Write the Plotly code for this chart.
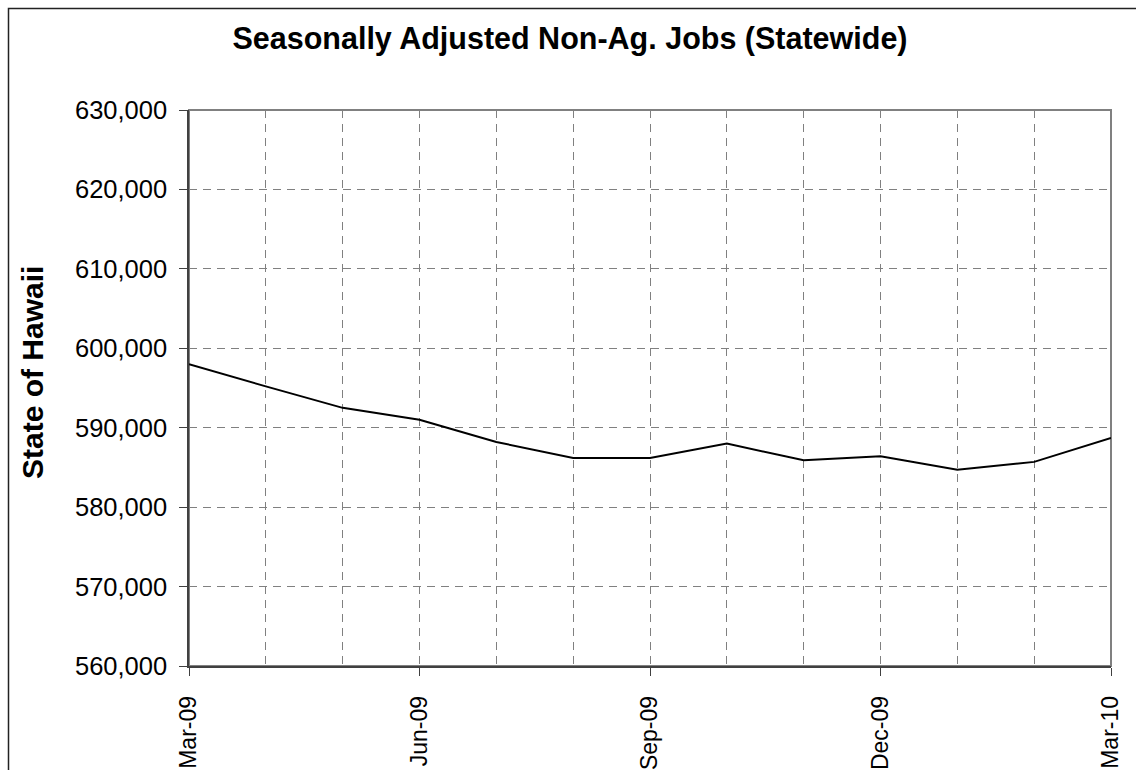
import plotly.graph_objects as go

months = ["Mar-09", "Apr-09", "May-09", "Jun-09", "Jul-09", "Aug-09", "Sep-09",
          "Oct-09", "Nov-09", "Dec-09", "Jan-10", "Feb-10", "Mar-10"]
jobs = [598000, 595200, 592500, 591000, 588200, 586200, 586200,
        588000, 585900, 586400, 584700, 585700, 588700]
y_ticks = [560000, 570000, 580000, 590000, 600000, 610000, 620000, 630000]
label_every = 3

W, H = 1136, 770
L, R, T, B = 189, 25, 110, 104
pw, ph = W - L - R, H - T - B

x_idx = list(range(len(months)))
tickvals = x_idx[::label_every]
ticktext = months[::label_every]

fig = go.Figure()
fig.add_trace(go.Scatter(x=x_idx, y=jobs, mode="lines",
                         line=dict(color="black", width=2), showlegend=False,
                         hovertemplate="%{text}: %{y:,}<extra></extra>", text=months))

font = "Liberation Sans, Arial, sans-serif"
grid_c = "#808080"

fig.update_layout(
    width=W, height=H,
    margin=dict(l=L, r=R, t=T, b=B, autoexpand=False),
    paper_bgcolor="white", plot_bgcolor="white",
    font=dict(family=font, color="black", size=24),
    title=dict(text="<b>Seasonally Adjusted Non-Ag. Jobs (Statewide)</b>",
               x=570 / W, xref="container", xanchor="center",
               y=1 - 38 / H, yref="container", yanchor="middle",
               font=dict(family=font, size=30.5, color="black")),
    xaxis=dict(range=[0, len(months) - 1], tickmode="array",
               tickvals=tickvals, ticktext=ticktext, tickangle=-90,
               ticks="outside", ticklen=8, tickcolor="#404040", tickwidth=1,
               ticklabelstandoff=11, automargin=False,
               showgrid=True, gridcolor=grid_c, griddash="8px,6px", gridwidth=1,
               minor=dict(dtick=1, tick0=0, showgrid=True, gridcolor=grid_c,
                          griddash="8px,6px", gridwidth=1, ticks=""),
               showline=True, linecolor="#404040", linewidth=1.5,
               zeroline=False, tickfont=dict(size=23)),
    yaxis=dict(range=[560000, 630000], tickvals=y_ticks,
               ticktext=[f"{v:,}" for v in y_ticks],
               ticks="outside", ticklen=8, tickcolor="#404040", tickwidth=1,
               ticklabelstandoff=7, automargin=False,
               showgrid=True, gridcolor=grid_c, griddash="8px,6px", gridwidth=1,
               showline=True, linecolor="#404040", linewidth=1.5,
               zeroline=False, tickfont=dict(size=25.5)),
)

# plot area border (top/right)
fig.add_shape(type="rect", xref="paper", yref="paper", x0=0, y0=0, x1=1, y1=1,
              line=dict(color="#808080", width=2), layer="below")
# outer chart frame (cropped at right/bottom)
fig.add_shape(type="rect", xref="paper", yref="paper",
              x0=(8.5 - L) / pw, y0=-0.5, x1=1.2, y1=1 + (T - 8.5) / ph,
              line=dict(color="#222222", width=1.5))

fig.add_annotation(text="<b>State of Hawaii</b>", xref="paper", yref="paper",
                   x=(33 - L) / pw, y=1 - (373 - T) / ph, showarrow=False,
                   textangle=-90, xanchor="center", yanchor="middle",
                   font=dict(family=font, size=30, color="black"))

fig.write_html(
    "out.html",
    config={"displayModeBar": False},
    post_script="document.body.style.margin='0';"
                "document.documentElement.style.overflow='hidden';"
                "document.body.style.overflow='hidden';",
)
